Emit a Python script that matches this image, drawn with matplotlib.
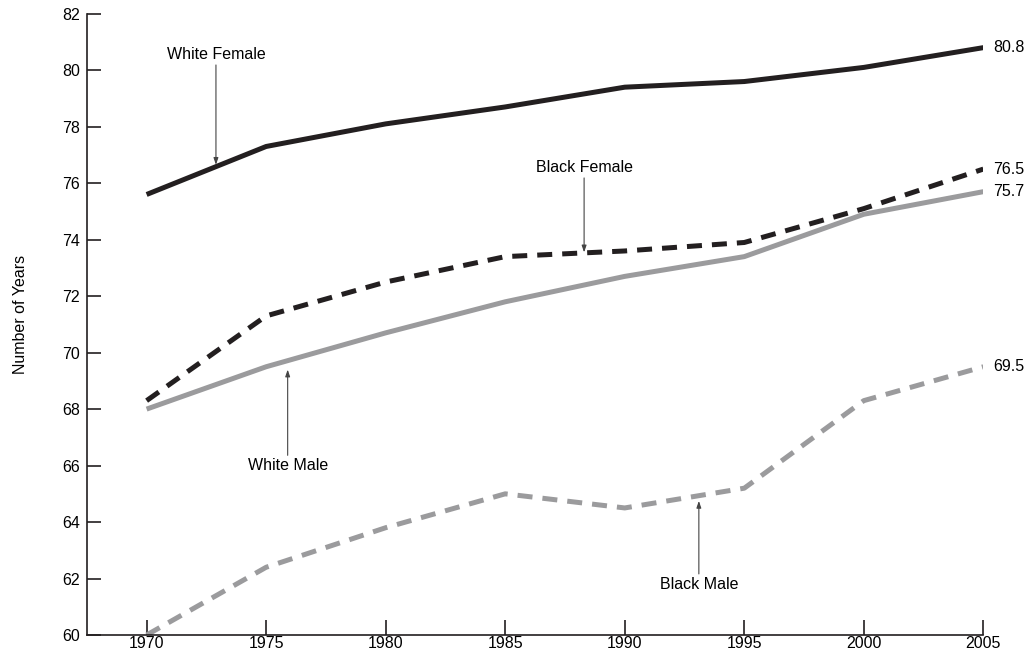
import numpy as np
import matplotlib
matplotlib.use("Agg")
import matplotlib.pyplot as plt

plt.rcParams['font.family'] = ['Liberation Sans', 'DejaVu Sans']

years = [1970, 1975, 1980, 1985, 1990, 1995, 2000, 2005]
white_female = [75.6, 77.3, 78.1, 78.7, 79.4, 79.6, 80.1, 80.8]
black_female = [68.3, 71.3, 72.5, 73.4, 73.6, 73.9, 75.1, 76.5]
white_male = [68.0, 69.5, 70.7, 71.8, 72.7, 73.4, 74.9, 75.7]
black_male = [60.0, 62.4, 63.8, 65.0, 64.5, 65.2, 68.3, 69.5]
y_ticks = list(range(60, 83, 2))

BLACK = '#231f20'
GRAY = '#9b9b9d'
FS = 11.5

fig = plt.figure(figsize=(10.34, 6.55), dpi=100)
ax = fig.add_axes([0.084, 0.0305, 0.867, 0.9485])

lw = 3.6
ax.plot(years, white_female, color=BLACK, lw=lw, solid_capstyle='butt')
ax.plot(years, black_female, color=BLACK, lw=lw, dashes=(3, 2))
ax.plot(years, white_male, color=GRAY, lw=lw, solid_capstyle='butt')
ax.plot(years, black_male, color=GRAY, lw=lw, dashes=(3, 2))

ax.set_xlim(1967.5, 2005)
ax.set_ylim(60, 82)
ax.set_xticks(years)
ax.set_yticks(y_ticks)
ax.spines['top'].set_visible(False)
ax.spines['right'].set_visible(False)
for s in ('left', 'bottom'):
    ax.spines[s].set_color(BLACK)
    ax.spines[s].set_linewidth(1.2)
ax.tick_params(axis='x', direction='in', length=11, width=1.2, color=BLACK,
               labelsize=FS, pad=1)
ax.tick_params(axis='y', direction='in', length=10, width=1.2, color=BLACK,
               labelsize=FS, pad=5)
ax.set_ylabel('Number of Years', fontsize=FS)
ax.yaxis.set_label_coords(-0.066, 0.516)

# end-of-line values
for series in (white_female, black_female, white_male, black_male):
    ax.annotate(f"{series[-1]:.1f}", xy=(years[-1], series[-1]),
                xytext=(7, 0), textcoords='offset points',
                va='center', ha='left', fontsize=FS, annotation_clip=False)

arrow = dict(arrowstyle='-|>,head_length=0.35,head_width=0.12',
             color='#444444', lw=0.8, shrinkA=0, shrinkB=0)
ax.annotate('White Female', xy=(1972.9, 76.65), xytext=(1972.9, 80.55),
            ha='center', va='center', fontsize=FS, arrowprops=arrow)
ax.annotate('Black Female', xy=(1988.3, 73.55), xytext=(1988.3, 76.55),
            ha='center', va='center', fontsize=FS, arrowprops=arrow)
ax.annotate('White Male', xy=(1975.9, 69.4), xytext=(1975.9, 66.0),
            ha='center', va='center', fontsize=FS, arrowprops=arrow)
ax.annotate('Black Male', xy=(1993.1, 64.75), xytext=(1993.1, 61.8),
            ha='center', va='center', fontsize=FS, arrowprops=arrow)

fig.savefig('out.png', dpi=100)
